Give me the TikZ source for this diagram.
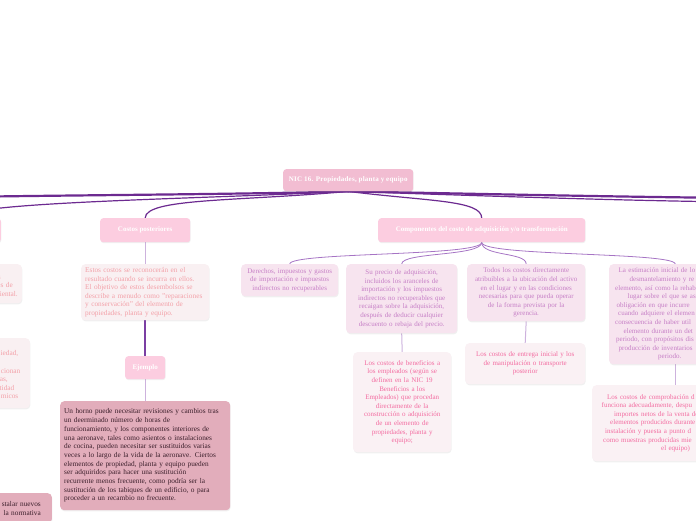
\documentclass[tikz,border=0pt]{standalone}
\usepackage{fontspec}
\setmainfont{Liberation Serif}
\usepackage{xcolor}
\usetikzlibrary{shadows,backgrounds}
\definecolor{rootpk}{HTML}{F2BDD2}
\definecolor{topicpk}{HTML}{FCCDE0}
\definecolor{salbg}{HTML}{F9F0F2}
\definecolor{saltx}{HTML}{F3A0A8}
\definecolor{lilbg}{HTML}{F7E4EF}
\definecolor{liltx}{HTML}{C67EC6}
\definecolor{rosbg}{HTML}{FAF1F4}
\definecolor{rostx}{HTML}{F36BA0}
\definecolor{dusbg}{HTML}{E2ADBB}
\definecolor{dustx}{HTML}{3A1E2A}
\definecolor{trunkc}{HTML}{6C2A90}
\definecolor{stemc}{HTML}{7B3FA3}
\definecolor{twigc}{HTML}{A674C4}
\definecolor{leafc}{HTML}{CDB2DD}
\newcommand{\padr}[1]{\rule{#1}{0pt}}

\begin{document}
\begin{tikzpicture}[x=1pt, y=-1pt,
  font=\fontsize{7}{8.6}\selectfont,
  topic/.style={rounded corners=3pt, fill=topicpk, text=white, anchor=north west,
    font=\bfseries\fontsize{7}{8}\selectfont, align=center, inner sep=2pt,
    drop shadow={shadow xshift=.5pt, shadow yshift=-1pt, opacity=.12}},
  card/.style={rounded corners=4pt, anchor=north west, inner xsep=4pt, inner ysep=3pt,
    drop shadow={shadow xshift=.5pt, shadow yshift=-1.2pt, opacity=.12}},
  salmon/.style={card, fill=salbg, text=saltx, align=left, font=\fontsize{7.3}{8.6}\selectfont},
  lilac/.style={card, fill=lilbg, text=liltx, align=center},
  rose/.style={card, fill=rosbg, text=rostx, align=center},
  dusty/.style={card, fill=dusbg, text=dustx, align=left, font=\fontsize{7.3}{8.7}\selectfont},
  trunk/.style={draw=trunkc, line width=#1, line cap=round}, trunk/.default=1.2pt,
  twig/.style={draw=twigc, line width=.8pt},
  leaf/.style={draw=leafc, line width=1pt}]

\useasboundingbox (0,0) rectangle (696,520);
\clip (0,0) rectangle (696,520);

% central topic and main branches
\node[topic, fill=rootpk, minimum width=130pt, minimum height=22pt,
  font=\bfseries\fontsize{7}{8}\selectfont\addfontfeatures{LetterSpace=3}] (root) at (283,169)
  {NIC 16. Propiedades, planta y equipo};
\node[topic, minimum width=80pt, minimum height=24pt, anchor=north east] (side) at (1,218) {};
\node[topic, minimum width=90pt, minimum height=24pt] (post) at (100,218) {Costos posteriores};
\node[topic, minimum width=207pt, minimum height=24pt] (comp) at (378,218)
  {Componentes del costo de adquisición y/o transformación};
\coordinate (farL) at (-40,197);
\coordinate (farR) at (740,198);
\coordinate (farR2) at (740,202);

% left column
\node[salmon, text width=120pt, minimum width=128pt, minimum height=56pt] (recon) at (81,264)
  {Estos costos se reconocerán en el\\
   resultado cuando se incurra en ellos.\\
   El objetivo de estos desembolsos se\\
   describe a menudo como "reparaciones\\
   y conservación" del elemento de\\
   propiedades, planta y equipo.};
\node[topic, minimum width=40pt, minimum height=23pt] (ej) at (125,356) {Ejemplo};
\node[dusty, text width=162pt, minimum width=170pt, minimum height=109pt] (horno) at (60,401)
  {Un horno puede necesitar revisiones y cambios tras\\
   un deerminado número de horas de\\
   funcionamiento, y los componentes interiores de\\
   una aeronave, tales como asientos o instalaciones\\
   de cocina, pueden necesitar ser sustituidos varias\\
   veces a lo largo de la vida de la aeronave. Ciertos\\
   elementos de propiedad, planta y equipo pueden\\
   ser adquiridos para hacer una sustitución\\
   recurrente menos frecuente, como podría ser la\\
   sustitución de los tabiques de un edificio, o para\\
   proceder a un recambio no frecuente.};

% cut at the left edge
\node[salmon, align=right, text width=92pt, minimum width=100pt, minimum height=39pt,
  anchor=north east] (cutA) at (22,264)
  {\mbox{}\\ s\padr{17pt}\\ es de\padr{5pt}\\ iental.\padr{0pt}};
\node[salmon, align=right, text width=92pt, minimum width=100pt, minimum height=70pt,
  anchor=north east] (cutB) at (30,338)
  {\mbox{}\\ iedad,\padr{7.5pt}\\ \mbox{}\\ cionan\padr{5.5pt}\\ as,\padr{18pt}\\
   tidad\padr{11.5pt}\\ micos\padr{7.5pt}};
\node[dusty, align=right, text width=112pt, minimum width=120pt, minimum height=30pt,
  anchor=north east] (cutC) at (52,493)
  {stalar nuevos\padr{7pt}\\ la normativa\padr{7pt}};

% right part
\node[lilac, text width=89pt, minimum width=97pt, minimum height=32pt] (der) at (241,264)
  {Derechos, impuestos y gastos\\ de importación e impuestos\\ indirectos no recuperables};
\node[lilac, text width=103pt, minimum width=111pt, minimum height=69pt] (precio) at (346,264)
  {Su precio de adquisición,\\ incluidos los aranceles de\\ importación y los impuestos\\
   indirectos no recuperables que\\ recaigan sobre la adquisición,\\
   después de deducir cualquier\\ descuento o rebaja del precio.};
\node[lilac, text width=110pt, minimum width=116pt, minimum height=57pt] (todos) at (467,264)
  {Todos los costos directamente\\ atribuibles a la ubicación del activo\\
   en el lugar y en las condiciones\\ necesarias para que pueda operar\\
   de la forma prevista por la\\ gerencia.};
\node[lilac, align=left, text width=124pt, minimum width=132pt, minimum height=100pt] (desm) at (609,264)
  {\hspace*{5.5pt}La estimación inicial de lo\\
   \hspace*{16.5pt}desmantelamiento y re\\
   \hspace*{2pt}elemento, así como la rehab\\
   \hspace*{14.5pt}lugar sobre el que se as\\
   \hspace*{3.5pt}obligación en que incurre\\
   \hspace*{5pt}cuando adquiere el elemen\\
   \hspace*{2pt}consecuencia de haber util\\
   \hspace*{10.5pt}elemento durante un det\\
   \hspace*{3pt}periodo, con propósitos dis\\
   \hspace*{5.5pt}producción de inventarios\\
   \hspace*{45pt}periodo.};
\node[rose, text width=90pt, minimum width=98pt, minimum height=100pt] (benef) at (353,352)
  {Los costos de beneficios a\\ los empleados (según se\\ definen en la NIC 19\\
   Beneficios a los\\ Empleados) que procedan\\ directamente de la\\
   construcción o adquisición\\ de un elemento de\\ propiedades, planta y\\ equipo;};
\node[rose, text width=112pt, minimum width=120pt, minimum height=41pt] (entrega) at (465,343)
  {Los costos de entrega inicial y los\\ de manipulación o transporte\\ posterior};
\node[rose, align=left, text width=158pt, minimum width=166pt, minimum height=76pt] (prueba) at (592,385)
  {\hspace*{11pt}Los costos de comprobación d\\
   \hspace*{5.5pt}funciona adecuadamente, despu\\
   \hspace*{18pt}importes netos de la venta de\\
   \hspace*{14pt}elementos producidos durante\\
   \hspace*{9pt}instalación y puesta a punto d\\
   \hspace*{7pt}como muestras producidas mie\\
   \hspace*{65pt}el equipo)};

\begin{scope}[on background layer]
\draw[trunk=2.2pt] (root.south) .. controls +(-110,3) and +(120,-2) .. (farL);
\draw[trunk] (root.south) .. controls +(-160,8) and +(0,-16) .. (side.north);
\draw[trunk] (root.south) .. controls +(-110,10) and +(0,-20) .. (post.north);
\draw[trunk=2.2pt] (root.south) .. controls +(110,2) and +(-120,-1) .. (farR);
\draw[trunk] (root.south) .. controls +(120,4) and +(-110,-1) .. (farR2);
\draw[trunk] (root.south) .. controls +(80,10) and +(0,-18) .. (comp.north);

\draw[leaf] (post.south) -- (recon.north);
\draw[stemc, line width=1.5pt] (recon.south) -- (ej.north);
\draw[leaf] (ej.south) -- (horno.north);

\draw[twig] (comp.south) .. controls +(0,14) and +(0,-12) .. (der.north);
\draw[twig] (comp.south) .. controls +(0,14) and +(0,-12) .. (precio.north);
\draw[twig] (comp.south) .. controls +(0,14) and +(0,-12) .. (todos.north);
\draw[twig] (comp.south) .. controls +(0,14) and +(0,-12) .. (desm.north);
\draw[leaf] (precio.south) -- (benef.north);
\draw[leaf] (todos.south) -- (entrega.north);
\draw[leaf] (desm.south) -- (prueba.north);
\end{scope}
\end{tikzpicture}
\end{document}
